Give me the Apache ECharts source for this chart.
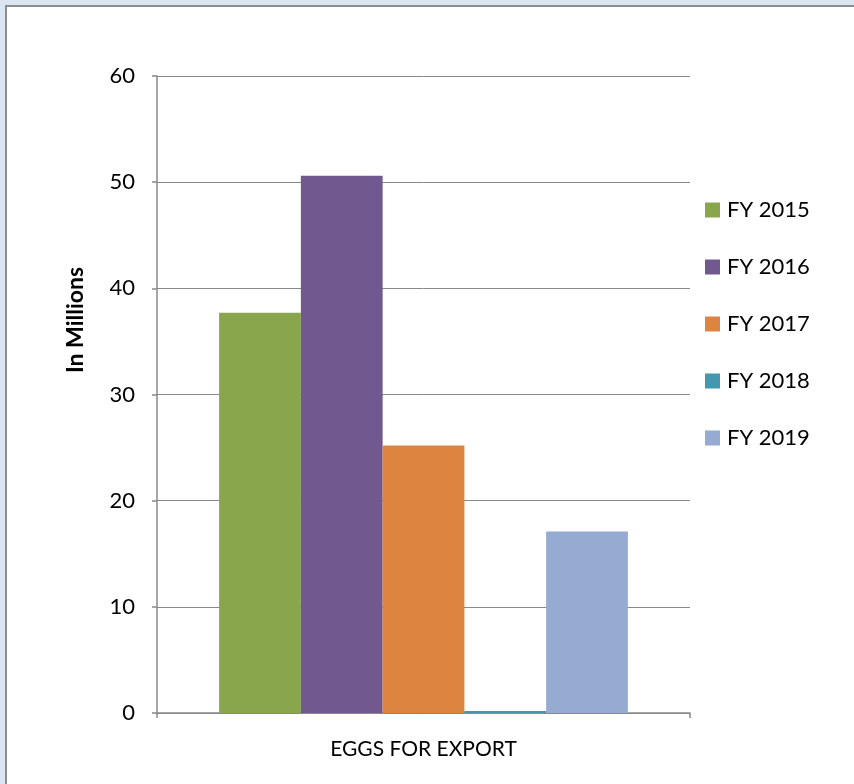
<!DOCTYPE html>
<html>
<head>
<meta charset="utf-8">
<title>Eggs for Export</title>
<script src="https://cdn.jsdelivr.net/npm/echarts@6/dist/echarts.min.js"></script>
<style>
  html, body { margin: 0; padding: 0; background: #dbe5f1; overflow: hidden; }
  #chart { position: absolute; left: 0; top: 0; width: 854px; height: 784px; }
</style>
</head>
<body>
<div id="chart"></div>
<script>
// Category and yearly export volumes (millions of eggs)
const categories = ['EGGS FOR EXPORT'];
const seriesNames = ['FY 2015', 'FY 2016', 'FY 2017', 'FY 2018', 'FY 2019'];
const seriesValues = [37.7, 50.6, 25.2, 0.2, 17.1];
const seriesColors = ['#8aa64c', '#71588f', '#dd8540', '#4198af', '#95abd2'];
const yTicks = { min: 0, max: 60, interval: 10 };

const FONT = 'Lato, "Open Sans", sans-serif';
const chart = echarts.init(document.getElementById('chart'), null, { renderer: 'canvas' });

const series = seriesNames.map((name, i) => ({
  name: name,
  type: 'bar',
  data: [seriesValues[i]],
  barGap: '0%',
  barCategoryGap: '23.3%',
  itemStyle: { color: seriesColors[i] }
}));

chart.setOption({
  backgroundColor: '#dbe5f1',
  animation: false,
  grid: { left: 157, top: 76, width: 533, height: 637 },
  legend: {
    orient: 'vertical',
    left: 705,
    top: 199,
    padding: 0,
    itemWidth: 15,
    itemHeight: 15,
    itemGap: 35,
    icon: 'rect',
    textStyle: { fontFamily: FONT, fontSize: 22, color: '#000', padding: [0, 0, 0, 2] },
    data: seriesNames
  },
  xAxis: {
    type: 'category',
    data: categories,
    axisLine: { lineStyle: { color: '#888888', width: 1.5 } },
    axisTick: { show: true, length: 5, lineStyle: { color: '#888888', width: 1.5 } },
    axisLabel: { fontFamily: FONT, fontSize: 21, color: '#000', margin: 26 }
  },
  yAxis: {
    type: 'value',
    min: yTicks.min,
    max: yTicks.max,
    interval: yTicks.interval,
    axisLine: { show: true, lineStyle: { color: '#888888', width: 1.5 } },
    axisTick: { show: true, length: 5, lineStyle: { color: '#888888', width: 1.5 } },
    splitLine: { show: true, lineStyle: { color: '#888888', width: 1 } },
    axisLabel: { fontFamily: FONT, fontSize: 22, color: '#000', margin: 22 }
  },
  graphic: [
    {
      // white chart panel with its frame edge on the left and top
      type: 'rect',
      z: -10,
      silent: true,
      shape: { x: 6, y: 6, width: 1000, height: 1000 },
      style: { fill: '#ffffff', stroke: '#8c8c8c', lineWidth: 2 }
    },
    {
      type: 'text',
      x: 76,
      y: 320,
      rotation: Math.PI / 2,
      style: {
        text: 'In Millions',
        font: 'bold 23px ' + FONT,
        fill: '#000',
        align: 'center',
        verticalAlign: 'middle'
      }
    }
  ],
  series: series
});
</script>
</body>
</html>
